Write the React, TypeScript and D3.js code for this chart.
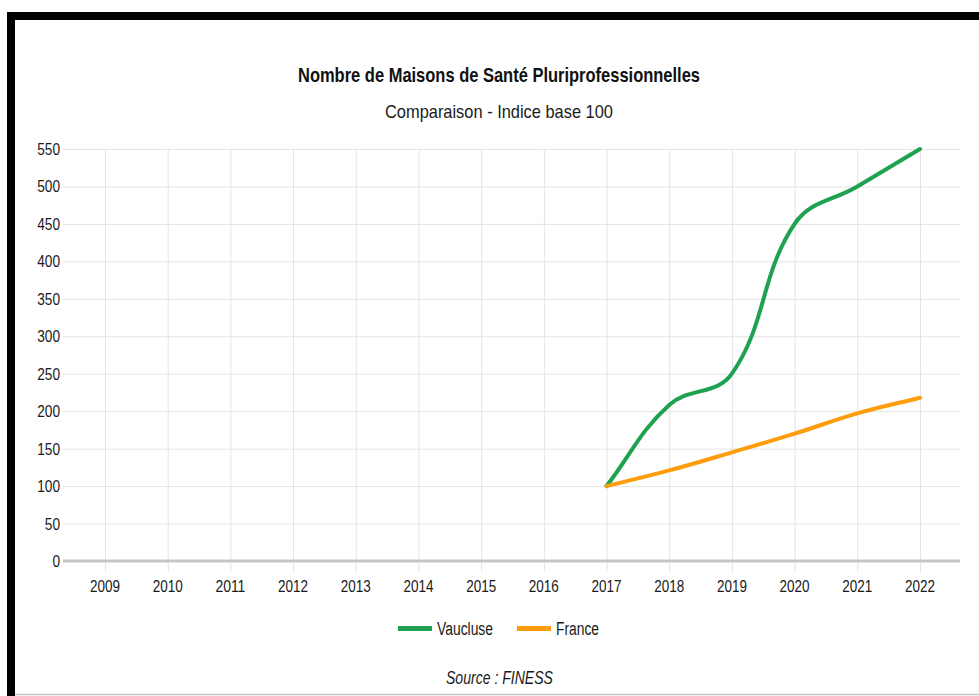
import { useEffect, useRef } from 'react';
import * as d3 from 'd3';

const years = ['2009', '2010', '2011', '2012', '2013', '2014', '2015', '2016', '2017', '2018', '2019', '2020', '2021', '2022'];
const vaucluse = [null, null, null, null, null, null, null, null, 100, 208.3, 250, 450, 500, 550];
const france = [null, null, null, null, null, null, null, null, 100, 121, 145, 170, 197, 218];
const yTicks = [0, 50, 100, 150, 200, 250, 300, 350, 400, 450, 500, 550];

const series = [
  { name: 'Vaucluse', values: vaucluse, color: '#1fa24f' },
  { name: 'France', values: france, color: '#fd9d0c' },
];

// chart.js style spline (tension 0.4), as a d3 curve factory
function splineCurve(tension: number) {
  return (context: any) => {
    let pts: [number, number][] = [];
    return {
      areaStart() {},
      areaEnd() {},
      lineStart() { pts = []; },
      point(x: number, y: number) { pts.push([x, y]); },
      lineEnd() {
        if (!pts.length) return;
        const cps = pts.map((cur, i) => {
          const prev = pts[i - 1] || cur;
          const next = pts[i + 1] || cur;
          const d01 = Math.hypot(cur[0] - prev[0], cur[1] - prev[1]);
          const d12 = Math.hypot(next[0] - cur[0], next[1] - cur[1]);
          const s01 = d01 / (d01 + d12 || 1);
          const s12 = d12 / (d01 + d12 || 1);
          const fa = tension * s01;
          const fb = tension * s12;
          return {
            prev: [cur[0] - fa * (next[0] - prev[0]), cur[1] - fa * (next[1] - prev[1])],
            next: [cur[0] + fb * (next[0] - prev[0]), cur[1] + fb * (next[1] - prev[1])],
          };
        });
        context.moveTo(pts[0][0], pts[0][1]);
        for (let i = 1; i < pts.length; i++) {
          const a = cps[i - 1].next, b = cps[i].prev;
          context.bezierCurveTo(a[0], a[1], b[0], b[1], pts[i][0], pts[i][1]);
        }
      },
    };
  };
}

export default function App() {
  const svgRef = useRef<SVGSVGElement>(null);

  useEffect(() => {
    if (!svgRef.current) return;
    const svg = d3.select(svgRef.current);
    svg.selectAll('*').remove();

    const font = "'Liberation Sans', Arial, sans-serif";
    const left = 63, right = 960;

    const x = d3.scalePoint<string>().domain(years).range([105, 920]);
    const y = d3.scaleLinear().domain([0, 550]).range([561, 149]);

    svg.append('rect').attr('width', 979).attr('height', 696).attr('fill', '#ffffff');

    // frame
    svg.append('rect').attr('x', 7).attr('y', 12).attr('width', 972).attr('height', 8).attr('fill', '#000');
    svg.append('rect').attr('x', 7).attr('y', 12).attr('width', 8).attr('height', 684).attr('fill', '#000');
    svg.append('line').attr('x1', 15).attr('x2', 979).attr('y1', 694.5).attr('y2', 694.5)
      .attr('stroke', '#c4c4c4').attr('stroke-width', 1.5);

    // titles
    svg.append('text').attr('x', 499).attr('y', 82).attr('text-anchor', 'middle')
      .attr('font-family', font).attr('font-weight', 'bold').attr('font-size', 21)
      .attr('textLength', 402).attr('lengthAdjust', 'spacingAndGlyphs').attr('fill', '#111')
      .text('Nombre de Maisons de Santé Pluriprofessionnelles');
    svg.append('text').attr('x', 499).attr('y', 118).attr('text-anchor', 'middle')
      .attr('font-family', font).attr('font-size', 19)
      .attr('textLength', 228).attr('lengthAdjust', 'spacingAndGlyphs').attr('fill', '#1a1a1a')
      .text('Comparaison - Indice base 100');

    // grid
    const grid = svg.append('g');
    grid.selectAll('.hg').data(yTicks.filter(t => t !== 0)).enter().append('line')
      .attr('x1', left).attr('x2', right)
      .attr('y1', d => y(d) + 0.5).attr('y2', d => y(d) + 0.5)
      .attr('stroke', '#e4e4e4').attr('stroke-width', 1);
    grid.selectAll('.vg').data(years).enter().append('line')
      .attr('x1', d => x(d)! + 0.5).attr('x2', d => x(d)! + 0.5)
      .attr('y1', 149).attr('y2', 572)
      .attr('stroke', '#e4e4e4').attr('stroke-width', 1);
    grid.append('line').attr('x1', left).attr('x2', right).attr('y1', y(0)).attr('y2', y(0))
      .attr('stroke', '#c6c6c6').attr('stroke-width', 3);

    // y labels
    svg.append('g').selectAll('text').data(yTicks).enter().append('text')
      .attr('x', 60).attr('y', d => y(d) + 6).attr('text-anchor', 'end')
      .attr('font-family', font).attr('font-size', 16).attr('fill', '#1a1a1a')
      .attr('textLength', d => String(d).length * 7.6).attr('lengthAdjust', 'spacingAndGlyphs')
      .text(d => String(d));

    // x labels
    svg.append('g').selectAll('text').data(years).enter().append('text')
      .attr('x', d => x(d)!).attr('y', 592).attr('text-anchor', 'middle')
      .attr('font-family', font).attr('font-size', 16).attr('fill', '#1a1a1a')
      .attr('textLength', 30).attr('lengthAdjust', 'spacingAndGlyphs')
      .text(d => d);

    // lines
    series.forEach(s => {
      const line = d3.line<number | null>()
        .defined(d => d != null)
        .x((_, i) => x(years[i])!)
        .y(d => y(d as number))
        .curve(splineCurve(0.4) as any);
      svg.append('path').datum(s.values)
        .attr('fill', 'none').attr('stroke', s.color).attr('stroke-width', 4)
        .attr('stroke-linecap', 'round').attr('stroke-linejoin', 'round')
        .attr('d', line);
    });

    // legend
    const legendPos = [
      { sx: 398, tx: 437, w: 56 },
      { sx: 517, tx: 556, w: 43 },
    ];
    series.forEach((s, i) => {
      const p = legendPos[i];
      svg.append('rect').attr('x', p.sx).attr('y', 626).attr('width', 34).attr('height', 5)
        .attr('fill', s.color);
      svg.append('text').attr('x', p.tx).attr('y', 635)
        .attr('font-family', font).attr('font-size', 18).attr('fill', '#1a1a1a')
        .attr('textLength', p.w).attr('lengthAdjust', 'spacingAndGlyphs')
        .text(s.name);
    });

    svg.append('text').attr('x', 446).attr('y', 684)
      .attr('font-family', font).attr('font-style', 'italic').attr('font-size', 18).attr('fill', '#1a1a1a')
      .attr('textLength', 107).attr('lengthAdjust', 'spacingAndGlyphs')
      .text('Source : FINESS');
  }, []);

  return (
    <svg ref={svgRef} width={979} height={696}
      style={{ position: 'absolute', left: 0, top: 0, display: 'block' }} />
  );
}
